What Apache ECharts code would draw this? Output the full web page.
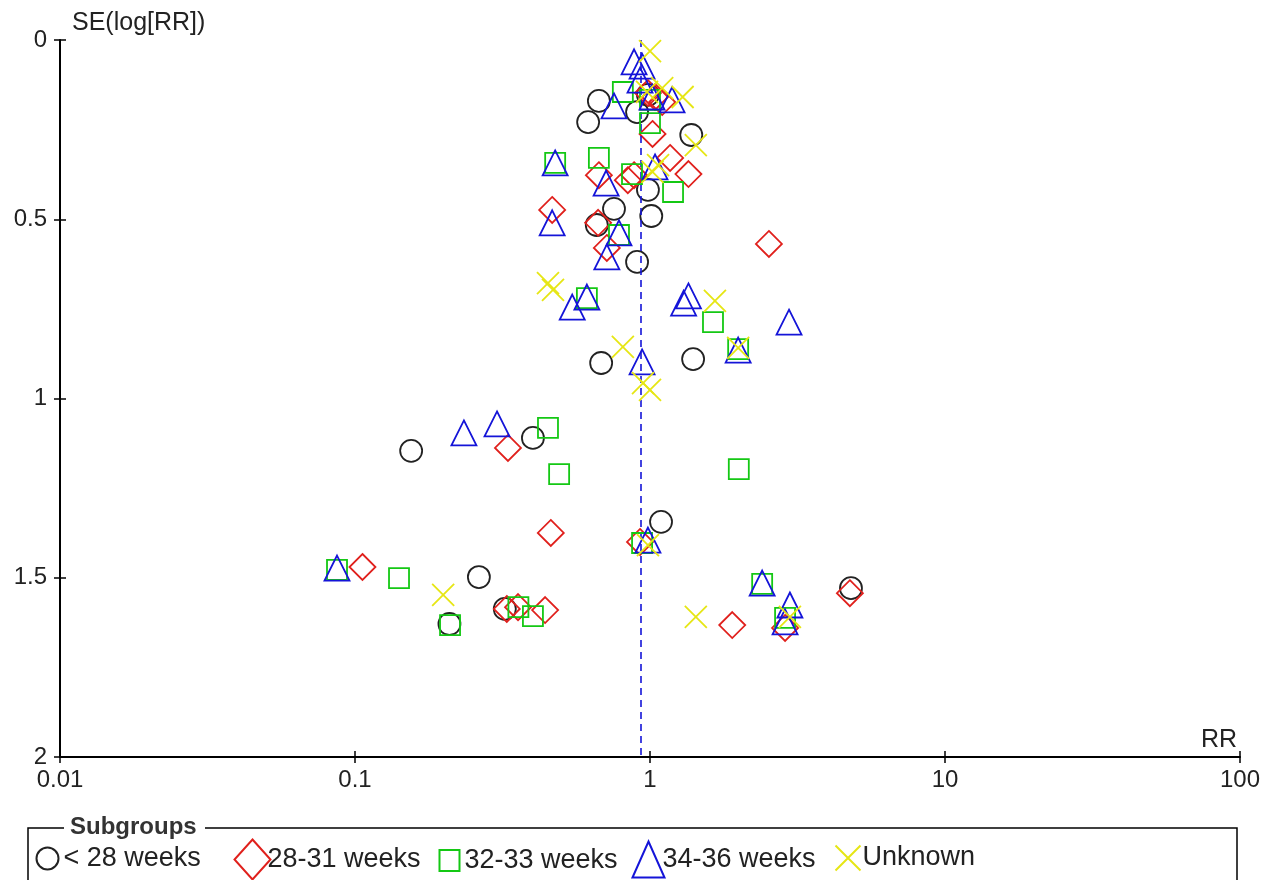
<!DOCTYPE html>
<html><head><meta charset="utf-8">
<script src="https://cdn.jsdelivr.net/npm/echarts@6/dist/echarts.min.js"></script>
<style>html,body{margin:0;padding:0;background:#fff}#c{width:1269px;height:880px}</style>
</head><body><div id="c"></div>
<script>
// ---- data (RR, SE(log RR)) ----
const groupNames = ['< 28 weeks', '28-31 weeks', '32-33 weeks', '34-36 weeks', 'Unknown'];
const xTickLabels = ['0.01', '0.1', '1', '10', '100'];
const yTickLabels = ['0', '0.5', '1', '1.5', '2'];
const pooledRR = 0.925;

const rrLt28 = [0.671,0.617,0.904,1.38,0.984,1.01,0.755,0.660,0.904,0.683,1.40,0.155,0.401,1.09,0.263,0.209,0.322,4.80,0.984];
const seLt28 = [0.170,0.229,0.201,0.265,0.418,0.491,0.471,0.516,0.619,0.901,0.890,1.146,1.110,1.344,1.498,1.629,1.587,1.529,0.153];

const rr2831 = [0.984,1.04,1.10,1.02,1.17,1.35,0.671,0.841,0.883,0.466,0.667,0.714,2.53,0.330,0.461,0.106,0.327,0.357,0.441,0.925,1.90,2.87,4.76];
const se2831 = [0.148,0.159,0.173,0.262,0.329,0.374,0.377,0.391,0.377,0.474,0.510,0.580,0.569,1.138,1.375,1.470,1.587,1.582,1.590,1.400,1.632,1.640,1.543];

const rr3233 = [0.809,1.00,1.00,0.477,0.671,0.869,1.197,0.785,0.611,1.635,1.99,0.451,0.492,2.00,0.0869,0.141,0.210,0.358,0.401,0.94,2.40,2.87];
const se3233 = [0.145,0.167,0.232,0.343,0.329,0.374,0.424,0.544,0.720,0.787,0.862,1.082,1.211,1.197,1.478,1.501,1.632,1.582,1.607,1.403,1.517,1.612];

const rr3436 = [0.883,0.940,0.925,0.755,1.188,1.016,0.477,0.710,1.04,0.466,0.785,0.714,0.545,0.611,1.35,1.30,2.96,1.99,0.94,0.234,0.303,0.0869,0.984,2.40,2.98,2.87];
const se3436 = [0.061,0.073,0.112,0.184,0.167,0.159,0.343,0.399,0.354,0.510,0.538,0.605,0.745,0.717,0.714,0.734,0.787,0.865,0.898,1.096,1.071,1.473,1.395,1.515,1.576,1.623];

const rrUnk = [1.00,1.10,1.29,0.977,1.43,1.065,1.02,0.451,0.469,0.809,1.66,1.99,0.947,1.00,0.199,1.43,0.984,2.98];
const seUnk = [0.031,0.134,0.159,0.145,0.293,0.349,0.368,0.678,0.697,0.856,0.728,0.859,0.957,0.976,1.548,1.609,1.409,1.609];

// ---- styling ----
const colors = ['#222222', '#e0201c', '#14c814', '#1414d8', '#e6e614'];
const symbols = ['circle', 'diamond', 'rect', 'triangle', 'path://M0,0L20,20M20,0L0,20'];
const sizes = [22, [26, 26], 20, [25, 25], 22];
// legend layout per item: icon left, icon width, icon height, text shift
const legLeft = [34, 232, 437, 630, 833];
const legW = [22, 36, 20, 32, 25];
const legH = [27, 40, 21, 36, 30];
const legShift = [0, -8, 0, -7, -3];
const legTop = [845, 837, 847, 839, 843];
const FONT = 'Liberation Sans';

const pairs = [[rrLt28, seLt28], [rr2831, se2831], [rr3233, se3233], [rr3436, se3436], [rrUnk, seUnk]];

const series = pairs.map((p, i) => ({
  name: groupNames[i],
  type: 'scatter',
  xAxisIndex: 0, yAxisIndex: 0,
  symbol: symbols[i],
  symbolSize: sizes[i],
  data: p[0].map((rr, k) => [rr, p[1][k]]),
  itemStyle: { color: 'none', borderColor: colors[i], borderWidth: 1.8, opacity: 1 },
  emphasis: { disabled: true },
  z: 3 + i
}));
series[0].markLine = {
  silent: true, symbol: 'none', animation: false,
  label: { show: false },
  lineStyle: { color: '#1414d8', type: [7, 5], width: 1.6 },
  data: [{ xAxis: pooledRR }]
};

const xBase = { type: 'log', logBase: 10, min: 0.01, max: 100, position: 'bottom',
  minorTick: { show: false }, splitLine: { show: false } };
const yBase = { type: 'value', inverse: true, min: 0, max: 2, interval: 0.5, position: 'left',
  splitLine: { show: false } };

const chart = echarts.init(document.getElementById('c'), null, { renderer: 'canvas' });
chart.setOption({
  animation: false,
  backgroundColor: '#fff',
  grid: { left: 60, right: 29, top: 40, bottom: 123 },
  xAxis: [
    Object.assign({}, xBase, {
      axisLine: { onZero: false, lineStyle: { color: '#000', width: 2 } },
      axisTick: { length: 6, lineStyle: { color: '#000', width: 1.5 } },
      axisLabel: { margin: 11, color: '#222', fontFamily: FONT, fontSize: 24,
        formatter: (v, i) => xTickLabels[i] !== undefined ? xTickLabels[i] : '' }
    }),
    Object.assign({}, xBase, {
      axisLine: { show: false, onZero: false },
      axisTick: { inside: true, length: 6, lineStyle: { color: '#000', width: 1.5 } },
      axisLabel: { show: false }
    })
  ],
  yAxis: [
    Object.assign({}, yBase, {
      axisLine: { show: true, onZero: false, lineStyle: { color: '#000', width: 2 } },
      axisTick: { show: true, length: 6, lineStyle: { color: '#000', width: 1.5 } },
      axisLabel: { margin: 13, color: '#222', fontFamily: FONT, fontSize: 24,
        formatter: (v, i) => yTickLabels[i] !== undefined ? yTickLabels[i] : '' }
    }),
    Object.assign({}, yBase, {
      axisLine: { show: false, onZero: false },
      axisTick: { show: true, inside: true, length: 6, lineStyle: { color: '#000', width: 1.5 } },
      axisLabel: { show: false }
    })
  ],
  legend: groupNames.map((n, i) => ({
    data: [n], left: legLeft[i], top: legTop[i], padding: 0,
    itemWidth: legW[i], itemHeight: legH[i], itemGap: 0,
    selectedMode: false,
    textStyle: { color: '#222', fontFamily: FONT, fontSize: 27, padding: [0, 0, 0, legShift[i]] }
  })),
  graphic: [
    { type: 'text', left: 72, top: 11, style: { text: 'SE(log[RR])', fill: '#222', font: '25px "' + FONT + '"' } },
    { type: 'text', right: 32, top: 728, style: { text: 'RR', fill: '#222', font: '25px "' + FONT + '"' } },
    { type: 'polyline', shape: { points: [[64, 828], [28, 828], [28, 890]] }, style: { stroke: '#000', lineWidth: 1.5, fill: 'none' } },
    { type: 'polyline', shape: { points: [[205, 828], [1237, 828], [1237, 890]] }, style: { stroke: '#000', lineWidth: 1.5, fill: 'none' } },
    { type: 'text', left: 70, top: 815, style: { text: 'Subgroups', fill: '#333', font: 'bold 24px "' + FONT + '"' } }
  ],
  series: series
});
</script>
</body></html>
